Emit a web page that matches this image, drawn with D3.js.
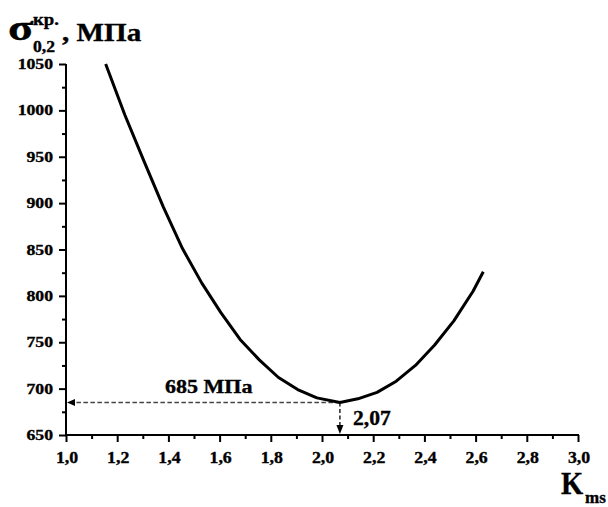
<!DOCTYPE html>
<html>
<head>
<meta charset="utf-8">
<script src="https://cdn.jsdelivr.net/npm/d3@7"></script>
<style>
  html, body { margin: 0; padding: 0; background: #fff; }
  svg text {
    font-family: "Liberation Serif", "Times New Roman", Times, serif;
    font-weight: bold; fill: #000;
    stroke: #000; stroke-width: 0.35px;
  }
</style>
</head>
<body>
<svg id="chart" width="608" height="507"></svg>
<script>
// Yield strength σ0,2 versus coefficient Kms
const kValues = [1.155, 1.23, 1.305, 1.38, 1.455, 1.53, 1.605, 1.68, 1.755, 1.83, 1.905, 1.98, 2.07,
                 2.14, 2.215, 2.29, 2.365, 2.44, 2.515, 2.59, 2.63];
const sigmaValues = [1050, 995, 945, 896, 851, 814, 782, 753, 731, 712, 699, 690, 685,
                     689, 696, 708, 725, 747, 773, 805, 826];

const minK = 2.07;
const minSigma = 685;

const xTicks = [1.0, 1.2, 1.4, 1.6, 1.8, 2.0, 2.2, 2.4, 2.6, 2.8, 3.0];
const xMinorTicks = [1.1, 1.3, 1.5, 1.7, 1.9, 2.1, 2.3, 2.5, 2.7, 2.9];
const yTicks = [650, 700, 750, 800, 850, 900, 950, 1000, 1050];
const yMinorTicks = [675, 725, 775, 825, 875, 925, 975, 1025];

const fmtComma = d => d.toFixed(1).replace(".", ",");

const svg = d3.select("#chart");
const x = d3.scaleLinear().domain([1.0, 3.0]).range([66, 578]);
const y = d3.scaleLinear().domain([650, 1050]).range([435, 64]);

// text helper: horizontally stretched serif lettering
function label(str, px, py, size, sx, anchor) {
  const g = svg.append("g").attr("transform", `translate(${px},${py}) scale(${sx},1)`);
  g.append("text")
    .attr("font-size", size)
    .attr("text-anchor", anchor || "start")
    .text(str);
  return g;
}

// axes (tick lines only; labels drawn separately)
const xAxis = svg.append("g").attr("transform", "translate(0,435)")
  .call(d3.axisBottom(x).tickValues(xTicks).tickSize(7).tickFormat(""));
const xAxisMinor = svg.append("g").attr("transform", "translate(0,435)")
  .call(d3.axisBottom(x).tickValues(xMinorTicks).tickSize(4).tickFormat(""));
const yAxis = svg.append("g").attr("transform", "translate(66,0)")
  .call(d3.axisLeft(y).tickValues(yTicks).tickSize(7).tickFormat(""));
const yAxisMinor = svg.append("g").attr("transform", "translate(66,0)")
  .call(d3.axisLeft(y).tickValues(yMinorTicks).tickSize(4).tickFormat(""));

[xAxis, xAxisMinor, yAxis, yAxisMinor].forEach(a => {
  a.selectAll("path.domain").remove();
  a.selectAll(".tick line").attr("stroke", "#000").attr("stroke-width", 2);
});
// axis lines
svg.append("line").attr("x1", x(1.0) - 1).attr("x2", x(3.0) + 1).attr("y1", y(650)).attr("y2", y(650))
  .attr("stroke", "#000").attr("stroke-width", 2);
svg.append("line").attr("x1", x(1.0)).attr("x2", x(1.0)).attr("y1", y(1050)).attr("y2", y(650) + 1)
  .attr("stroke", "#000").attr("stroke-width", 2);

// tick labels
xTicks.forEach(t => label(fmtComma(t), x(t) + 1, 463, 16.5, 1.08, "middle"));
yTicks.forEach(t => label(String(t), 53, y(t) + 5, 15, 1.18, "end"));

// dashed guide lines to the minimum
svg.append("line")
  .attr("x1", x(minK)).attr("x2", x(1.0) + 8)
  .attr("y1", y(minSigma)).attr("y2", y(minSigma))
  .attr("stroke", "#444").attr("stroke-width", 1.4).attr("stroke-dasharray", "4.5,2.5");
svg.append("path")
  .attr("d", `M${x(1.0) + 1},${y(minSigma)} l8,-3.5 l0,7 z`)
  .attr("fill", "#000");
svg.append("line")
  .attr("x1", x(minK)).attr("x2", x(minK))
  .attr("y1", y(minSigma)).attr("y2", y(650) - 9)
  .attr("stroke", "#000").attr("stroke-width", 1.3).attr("stroke-dasharray", "4,2.5");
svg.append("path")
  .attr("d", `M${x(minK)},${y(650) - 1} l-3.5,-9 l7,0 z`)
  .attr("fill", "#000");

// curve
const data = kValues.map((k, i) => ({ k, s: sigmaValues[i] }));
svg.append("path")
  .datum(data)
  .attr("fill", "none")
  .attr("stroke", "#000")
  .attr("stroke-width", 3)
  .attr("stroke-linejoin", "round")
  .attr("d", d3.line().x(d => x(d.k)).y(d => y(d.s)));

// annotations
label(`${minSigma} МПа`, 165, 393, 19, 1.16, "start");
label(String(minK).replace(".", ","), 353, 424.5, 20, 1.08, "start");

// axis titles
label("σ", 8, 39.5, 36, 1.3, "start");
label("кр.", 33, 25, 17, 1.1, "start");
label("0,2", 33, 52, 16, 1.1, "start");
label(", МПа", 62, 41, 26, 1.12, "start");
label("K", 561, 493.5, 31, 0.92, "start");
label("ms", 585, 503, 17, 1.0, "start");
</script>
</body>
</html>
